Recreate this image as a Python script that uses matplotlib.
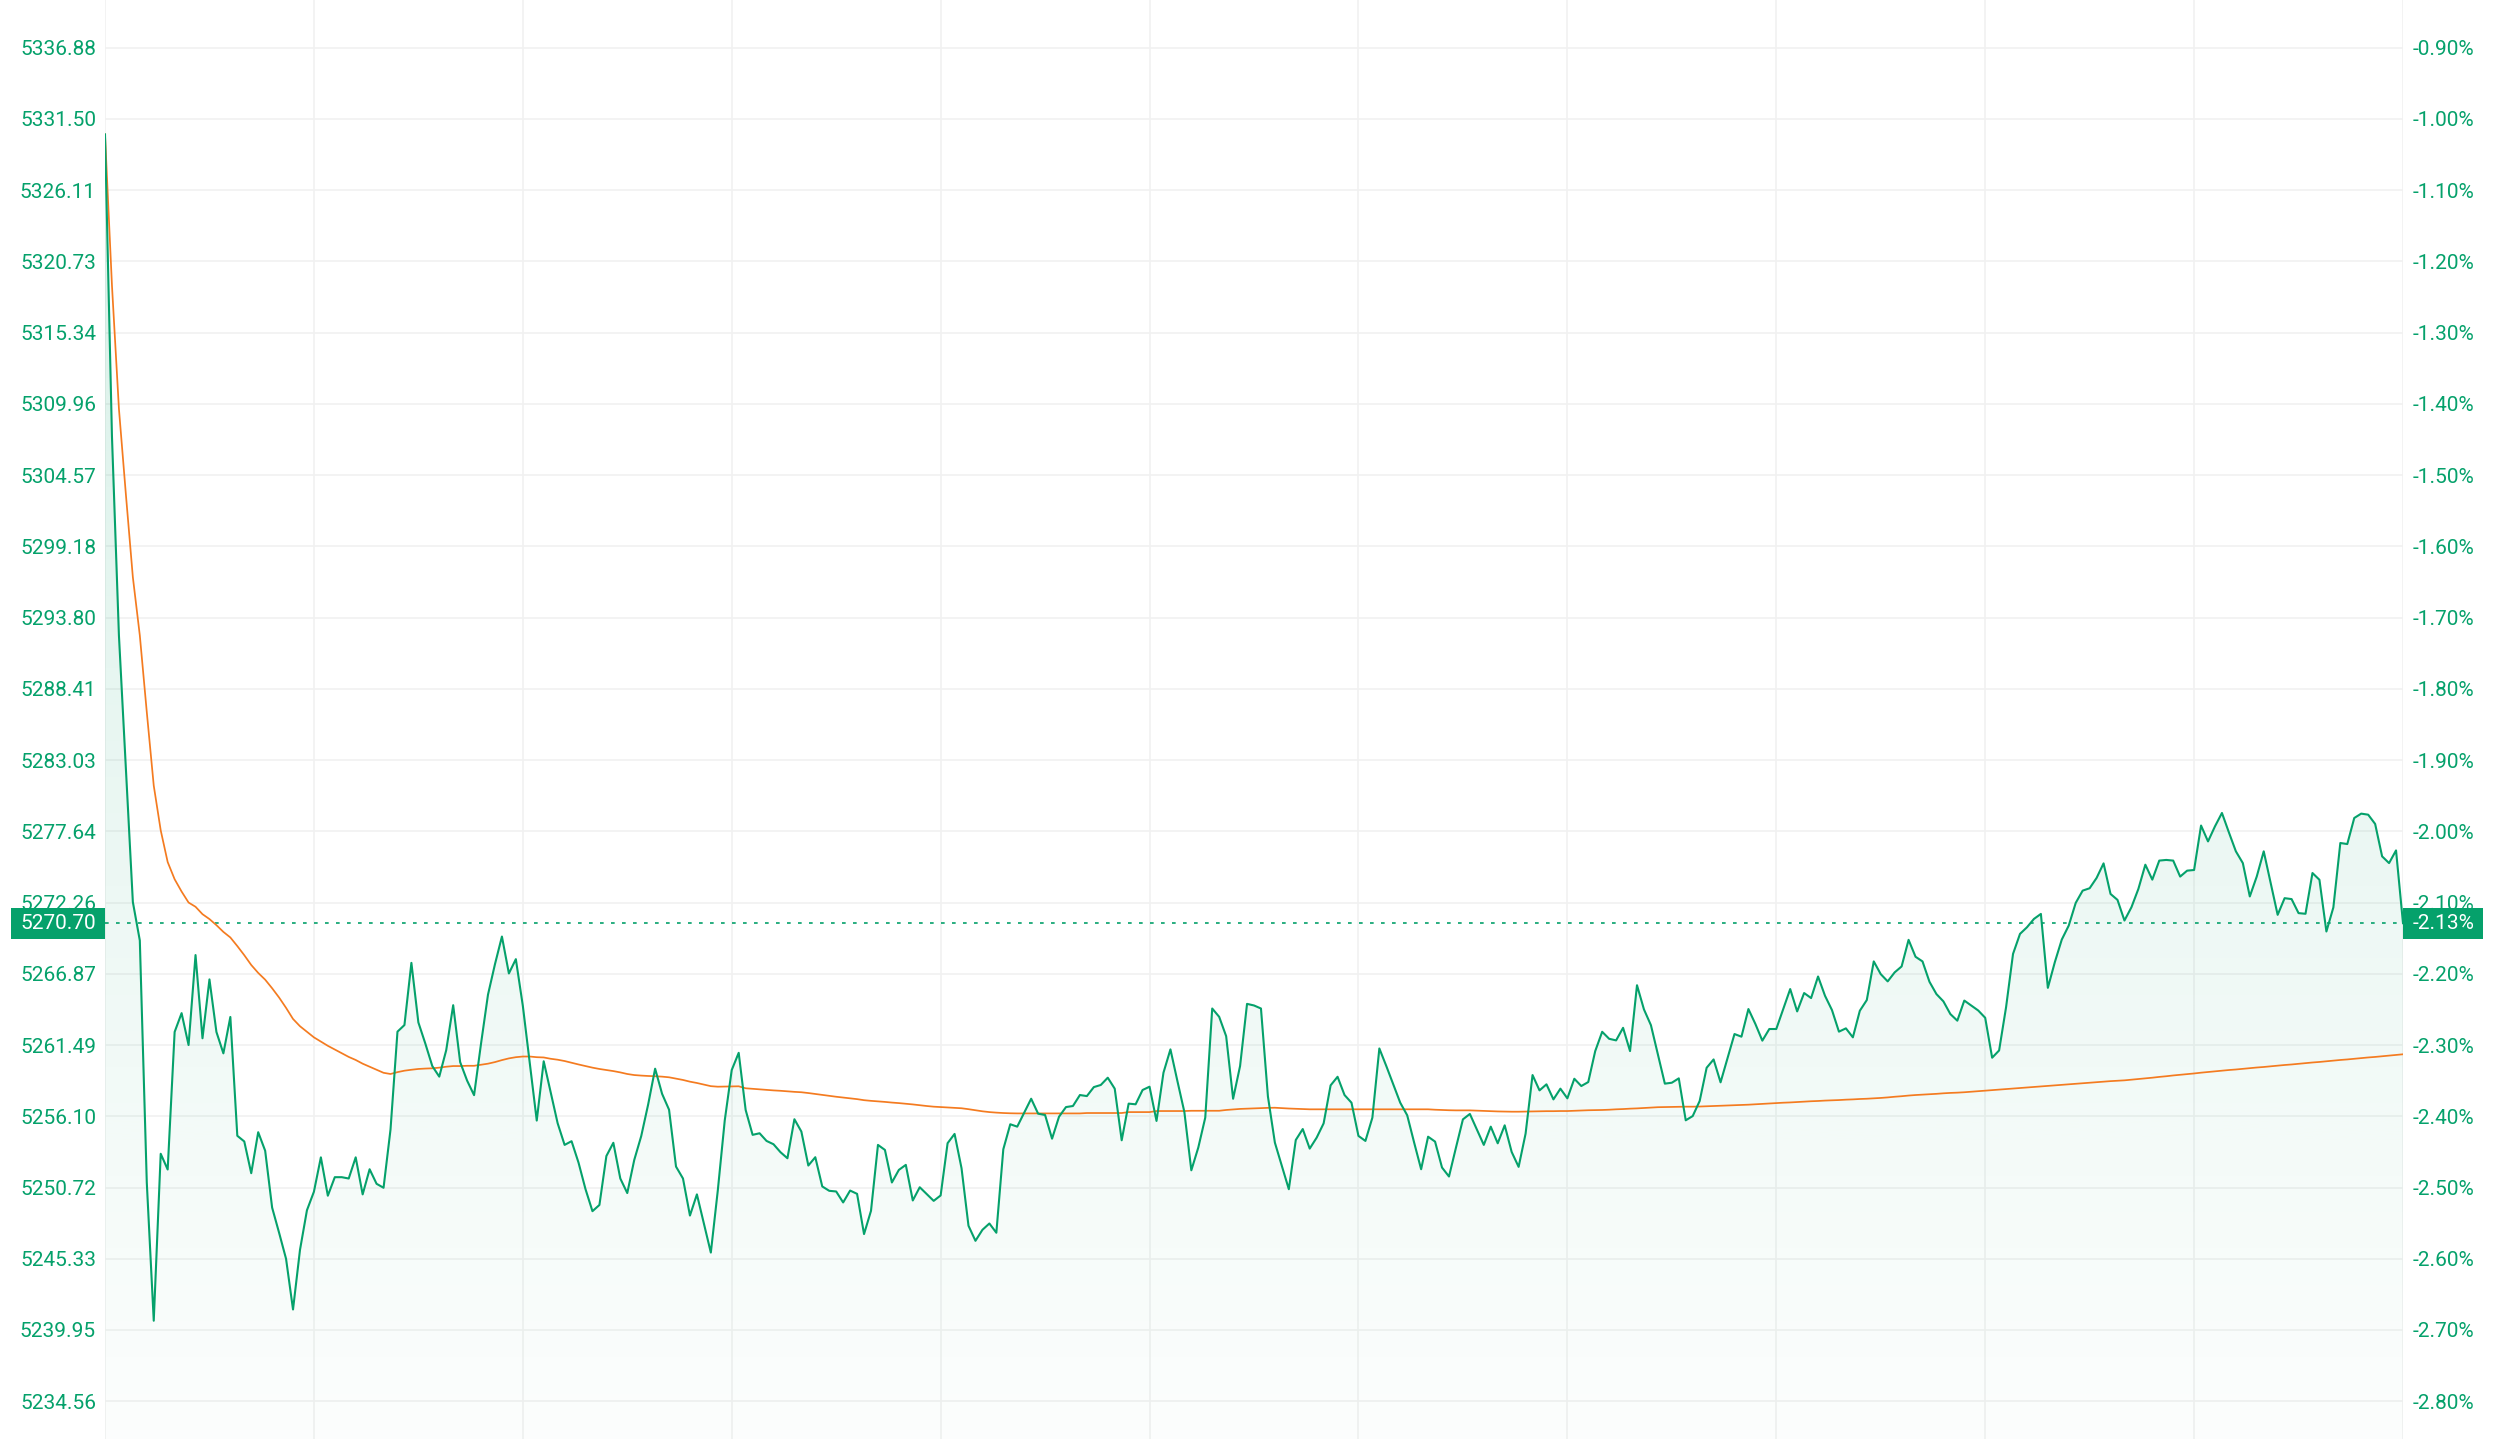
import numpy as np
import matplotlib
matplotlib.use("Agg")
import matplotlib.pyplot as plt
from matplotlib.patches import Polygon

# ---------------- data ----------------
price = [
    5330.32, 5307.49, 5292.45, 5282.4, 5272.3, 5269.39, 5251.1, 5240.65, 5253.27, 5252.08,
    5262.48, 5263.9, 5261.49, 5268.29, 5262.0, 5266.45, 5262.48, 5260.86, 5263.61, 5254.63,
    5254.2, 5251.8, 5254.9, 5253.5, 5249.2, 5247.3, 5245.33, 5241.5, 5246.0, 5249.0,
    5250.4, 5253.0, 5250.1, 5251.5, 5251.5, 5251.4, 5253.0, 5250.2, 5252.1, 5251.0,
    5250.7, 5255.1, 5262.5, 5263.0, 5267.7, 5263.2, 5261.6, 5259.9, 5259.1, 5261.1,
    5264.5, 5260.2, 5258.8, 5257.7, 5261.6, 5265.3, 5267.6, 5269.69, 5266.90, 5267.98,
    5264.46, 5260.1, 5255.78, 5260.26, 5257.92, 5255.58, 5253.94, 5254.22, 5252.6, 5250.6,
    5248.93, 5249.4, 5253.1, 5254.1, 5251.4, 5250.3, 5252.8, 5254.6, 5257.0, 5259.7,
    5257.8, 5256.6, 5252.3, 5251.4, 5248.6, 5250.2, 5248.0, 5245.8, 5250.5, 5255.8,
    5259.6, 5260.9, 5256.58, 5254.70, 5254.82, 5254.24, 5253.99, 5253.39, 5252.93, 5255.88,
    5254.95, 5252.38, 5253.01, 5250.80, 5250.47, 5250.42, 5249.59, 5250.49, 5250.24, 5247.20,
    5248.96, 5253.94, 5253.56, 5251.10, 5252.05, 5252.43, 5249.74, 5250.74, 5250.22, 5249.71,
    5250.12, 5254.07, 5254.77, 5252.18, 5247.83, 5246.69, 5247.52, 5248.0, 5247.3, 5253.61,
    5255.50, 5255.32, 5256.38, 5257.43, 5256.30, 5256.20, 5254.41, 5256.07, 5256.80, 5256.88,
    5257.71, 5257.63, 5258.31, 5258.47, 5259.02, 5258.19, 5254.29, 5257.06, 5257.01, 5258.09,
    5258.34, 5255.75, 5259.40, 5261.16, 5258.77, 5256.43, 5252.02, 5253.74, 5256.00, 5264.25,
    5263.62, 5262.16, 5257.43, 5259.90, 5264.60, 5264.48, 5264.25, 5257.6, 5254.11, 5252.35,
    5250.59, 5254.31, 5255.14, 5253.66, 5254.49, 5255.57, 5258.44, 5259.09, 5257.71, 5257.13,
    5254.62, 5254.24, 5256.00, 5261.23, 5259.90, 5258.52, 5257.13, 5256.18, 5254.11, 5252.10,
    5254.56, 5254.19, 5252.23, 5251.55, 5253.73, 5255.87, 5256.28, 5255.12, 5253.94, 5255.32,
    5254.06, 5255.42, 5253.41, 5252.28, 5254.79, 5259.22, 5258.06, 5258.52, 5257.38, 5258.19,
    5257.46, 5258.94, 5258.39, 5258.69, 5261.03, 5262.49, 5261.96, 5261.84, 5262.79, 5261.03,
    5266.01, 5264.18, 5262.99, 5260.78, 5258.57, 5258.64, 5258.97, 5255.80, 5256.12, 5257.26,
    5259.77, 5260.40, 5258.67, 5260.48, 5262.32, 5262.12, 5264.21, 5263.08, 5261.82, 5262.70,
    5262.70, 5264.21, 5265.72, 5264.03, 5265.42, 5265.04, 5266.67, 5265.21, 5264.13, 5262.50,
    5262.75, 5262.07, 5264.08, 5264.89, 5267.81, 5266.85, 5266.30, 5266.98, 5267.43, 5269.44,
    5268.16, 5267.81, 5266.27, 5265.34, 5264.79, 5263.83, 5263.33, 5264.85, 5264.48, 5264.10,
    5263.55, 5260.53, 5261.08, 5264.35, 5268.38, 5269.89, 5270.39, 5271.02, 5271.40, 5265.81,
    5267.75, 5269.46, 5270.52, 5272.23, 5273.16, 5273.34, 5274.12, 5275.22, 5272.91, 5272.46,
    5270.90, 5271.90, 5273.29, 5275.12, 5273.99, 5275.43, 5275.48, 5275.43, 5274.22, 5274.67,
    5274.72, 5278.08, 5276.88, 5278.02, 5279.03, 5277.56, 5276.13, 5275.24, 5272.72, 5274.23,
    5276.13, 5273.73, 5271.33, 5272.59, 5272.52, 5271.46, 5271.41, 5274.49, 5273.98, 5270.07,
    5271.89, 5276.76, 5276.68, 5278.65, 5278.98, 5278.90, 5278.20, 5275.75, 5275.24, 5276.20,
    5270.70,
]

avg_price = [
    5330.32, 5318.90, 5309.58, 5303.10, 5296.85, 5292.45, 5286.66, 5281.10, 5277.72, 5275.32,
    5274.02, 5273.09, 5272.26, 5271.94, 5271.38, 5271.01, 5270.55, 5270.04, 5269.62, 5268.97,
    5268.28, 5267.54, 5266.94, 5266.43, 5265.78, 5265.08, 5264.30, 5263.46, 5262.91, 5262.49,
    5262.07, 5261.75, 5261.43, 5261.15, 5260.87, 5260.59, 5260.36, 5260.08, 5259.85, 5259.62,
    5259.39, 5259.30, 5259.44, 5259.55, 5259.62, 5259.68, 5259.71, 5259.73, 5259.78, 5259.85,
    5259.90, 5259.90, 5259.92, 5259.92, 5260.00, 5260.08, 5260.20, 5260.35, 5260.48, 5260.57,
    5260.62, 5260.62, 5260.57, 5260.55, 5260.45, 5260.38, 5260.28, 5260.15, 5260.02, 5259.90,
    5259.78, 5259.68, 5259.60, 5259.52, 5259.42, 5259.30, 5259.22, 5259.18, 5259.15, 5259.13,
    5259.10, 5259.05, 5258.95, 5258.85, 5258.72, 5258.62, 5258.50, 5258.38, 5258.34, 5258.35,
    5258.36, 5258.37, 5258.22, 5258.18, 5258.14, 5258.10, 5258.06, 5258.03, 5257.99, 5257.95,
    5257.92, 5257.86, 5257.79, 5257.72, 5257.65, 5257.58, 5257.52, 5257.46, 5257.40, 5257.32,
    5257.27, 5257.23, 5257.19, 5257.14, 5257.10, 5257.05, 5257.00, 5256.94, 5256.88, 5256.83,
    5256.80, 5256.77, 5256.74, 5256.71, 5256.64, 5256.56, 5256.48, 5256.42, 5256.38, 5256.35,
    5256.33, 5256.32, 5256.32, 5256.32, 5256.32, 5256.32, 5256.32, 5256.32, 5256.32, 5256.32,
    5256.32, 5256.35, 5256.35, 5256.35, 5256.35, 5256.35, 5256.35, 5256.42, 5256.42, 5256.42,
    5256.42, 5256.50, 5256.50, 5256.50, 5256.50, 5256.50, 5256.52, 5256.52, 5256.52, 5256.52,
    5256.52, 5256.58, 5256.62, 5256.66, 5256.68, 5256.70, 5256.72, 5256.74, 5256.75, 5256.72,
    5256.69, 5256.67, 5256.65, 5256.63, 5256.63, 5256.63, 5256.63, 5256.63, 5256.63, 5256.63,
    5256.63, 5256.63, 5256.63, 5256.63, 5256.63, 5256.63, 5256.63, 5256.63, 5256.63, 5256.63,
    5256.63, 5256.60, 5256.58, 5256.56, 5256.55, 5256.55, 5256.55, 5256.53, 5256.51, 5256.49,
    5256.47, 5256.46, 5256.45, 5256.45, 5256.46, 5256.47, 5256.48, 5256.49, 5256.49, 5256.50,
    5256.50, 5256.52, 5256.54, 5256.56, 5256.57, 5256.58, 5256.60, 5256.63, 5256.65, 5256.68,
    5256.70, 5256.73, 5256.76, 5256.79, 5256.80, 5256.81, 5256.82, 5256.83, 5256.83, 5256.84,
    5256.86, 5256.88, 5256.90, 5256.92, 5256.94, 5256.96, 5256.98, 5257.01, 5257.04, 5257.07,
    5257.10, 5257.13, 5257.15, 5257.18, 5257.21, 5257.24, 5257.26, 5257.29, 5257.31, 5257.33,
    5257.36, 5257.38, 5257.41, 5257.43, 5257.46, 5257.49, 5257.53, 5257.58, 5257.62, 5257.67,
    5257.71, 5257.74, 5257.77, 5257.80, 5257.84, 5257.87, 5257.89, 5257.92, 5257.96, 5258.00,
    5258.04, 5258.08, 5258.12, 5258.16, 5258.20, 5258.24, 5258.28, 5258.32, 5258.36, 5258.40,
    5258.44, 5258.48, 5258.52, 5258.56, 5258.60, 5258.64, 5258.68, 5258.72, 5258.76, 5258.79,
    5258.82, 5258.87, 5258.92, 5258.97, 5259.02, 5259.08, 5259.13, 5259.19, 5259.24, 5259.29,
    5259.34, 5259.40, 5259.45, 5259.50, 5259.55, 5259.60, 5259.64, 5259.69, 5259.74, 5259.79,
    5259.83, 5259.88, 5259.93, 5259.98, 5260.02, 5260.07, 5260.12, 5260.17, 5260.21, 5260.26,
    5260.31, 5260.36, 5260.40, 5260.45, 5260.50, 5260.55, 5260.59, 5260.64, 5260.69, 5260.74,
    5260.79,
]

price_ticks = [5336.88, 5331.50, 5326.11, 5320.73, 5315.34, 5309.96, 5304.57, 5299.18,
               5293.80, 5288.41, 5283.03, 5277.64, 5272.26, 5266.87, 5261.49, 5256.10,
               5250.72, 5245.33, 5239.95, 5234.56]
pct_labels = ["-0.90%", "-1.00%", "-1.10%", "-1.20%", "-1.30%", "-1.40%", "-1.50%",
              "-1.60%", "-1.70%", "-1.80%", "-1.90%", "-2.00%", "-2.10%", "-2.20%",
              "-2.30%", "-2.40%", "-2.50%", "-2.60%", "-2.70%", "-2.80%"]
last_price_label = "5270.70"
last_pct_label = "-2.13%"
x_grid_step = 30

# ---------------- style ----------------
GREEN = "#05a16b"
ORANGE = "#f47b20"
GRID = "#f1f1f1"
FONT = ["Roboto", "DejaVu Sans"]
plt.rcParams["font.family"] = FONT

W, H = 2494, 1439
fig = plt.figure(figsize=(W / 100, H / 100), dpi=100)
left_px, right_px = 105, 2403
ax = fig.add_axes([left_px / W, 0, (right_px - left_px) / W, 1])

n = len(price)
x = np.arange(n)
y_top, y_bot = 5340.48, 5231.71
ax.set_xlim(0, n - 1)
ax.set_ylim(y_bot, y_top)

# grid
for t in price_ticks:
    ax.axhline(t, color=GRID, lw=1.2, zorder=0)
for xv in range(0, n, x_grid_step):
    ax.axvline(xv, color=GRID, lw=1.2, zorder=0)

# gradient fill under the price line
grad = np.zeros((256, 1, 4))
rgb = matplotlib.colors.to_rgb(GREEN)
grad[:, 0, 0] = rgb[0]
grad[:, 0, 1] = rgb[1]
grad[:, 0, 2] = rgb[2]
grad[:, 0, 3] = np.linspace(0.17, 0.015, 256)
im = ax.imshow(grad, aspect="auto", extent=[0, n - 1, y_bot, y_top],
               origin="upper", zorder=1, interpolation="bilinear")
verts = [(0, y_bot)] + list(zip(x, price)) + [(n - 1, y_bot)]
poly = Polygon(verts, closed=True, facecolor="none", edgecolor="none")
ax.add_patch(poly)
im.set_clip_path(poly)

ax.plot(x, avg_price, color=ORANGE, lw=1.25, zorder=3)
ax.plot(x, price, color=GREEN, lw=1.5, zorder=4)

last = price[-1]
ax.axhline(last, color=GREEN, lw=1.2, linestyle=(0, (2.2, 4.4)), zorder=2)

for s in ax.spines.values():
    s.set_visible(False)
ax.set_xticks([])
ax.set_yticks(price_ticks)
ax.set_yticklabels([f"{t:.2f}" for t in price_ticks])
ax.tick_params(axis="y", length=0, pad=6.5, labelsize=15, labelcolor=GREEN)

ax2 = ax.twinx()
ax2.set_ylim(ax.get_ylim())
ax2.set_yticks(price_ticks)
ax2.set_yticklabels(pct_labels)
ax2.tick_params(axis="y", length=0, pad=7.2, labelsize=15, labelcolor=GREEN)
for s in ax2.spines.values():
    s.set_visible(False)

# last value badges
yfrac = (last - y_bot) / (y_top - y_bot)
fig.patches.append(matplotlib.patches.Rectangle((11 / W, yfrac - 15.5 / H), (left_px - 11) / W, 31 / H,
                   transform=fig.transFigure, facecolor=GREEN, edgecolor="none", zorder=5))
fig.text(96 / W, yfrac, last_price_label, ha="right", va="center", color="white",
         fontsize=15, zorder=6)
fig.patches.append(matplotlib.patches.Rectangle((right_px / W, yfrac - 15.5 / H), 80 / W, 31 / H,
                   transform=fig.transFigure, facecolor=GREEN, edgecolor="none", zorder=5))
fig.text(2413 / W, yfrac, last_pct_label, ha="left", va="center", color="white",
         fontsize=15, zorder=6)

fig.savefig("out.png", dpi=100)
